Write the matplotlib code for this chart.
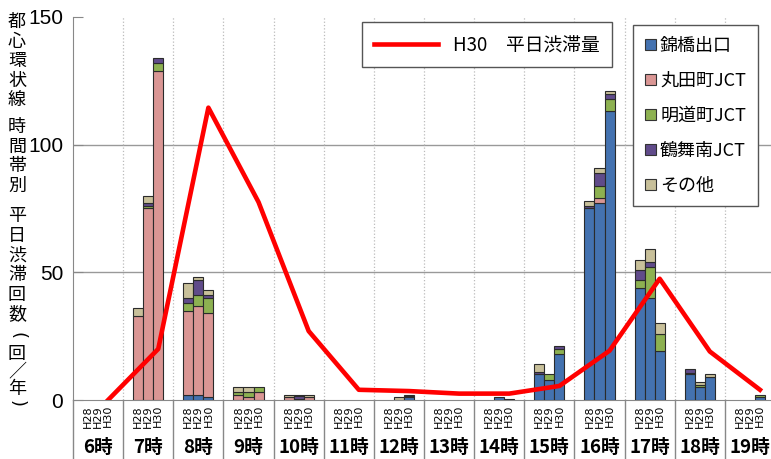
import matplotlib.pyplot as plt
import matplotlib.transforms as mtransforms
from matplotlib.lines import Line2D
from matplotlib.patches import Patch
import numpy as np

plt.rcParams['font.family'] = ['Noto Sans CJK JP', 'DejaVu Sans']

# 時間帯と年度
hours = ['6時', '7時', '8時', '9時', '10時', '11時', '12時',
         '13時', '14時', '15時', '16時', '17時', '18時', '19時']
years = ['H28', 'H29', 'H30']

# 渋滞回数（行: 時間帯, 列: H28, H29, H30）
nishikibashi = [[0, 0, 0], [0, 0, 0], [2, 2, 1], [0, 0, 0], [0, 0, 0],
                [0, 0, 0], [0, 0, 1], [0, 0, 0], [0, 1, 0.5], [10, 8, 18],
                [75, 77, 113], [44, 40, 19], [10, 5, 9], [0, 0, 1]]
marutamachi = [[0, 0, 0], [33, 75, 129], [33, 35, 33], [2, 1, 3], [1, 0.5, 1],
               [0, 0, 0], [0, 0, 0], [0, 0, 0], [0, 0, 0], [0, 0, 0],
               [0, 2, 0], [0, 0, 0], [0, 0, 0], [0, 0, 0]]
meidocho = [[0, 0, 0], [0, 1, 3], [3, 4, 6], [1, 2, 2], [0, 0, 0],
            [0, 0, 0], [0, 0, 0.5], [0, 0, 0], [0, 0, 0], [0, 2, 2],
            [0, 5, 5], [3, 12, 7], [0.5, 1, 0], [0, 0, 1]]
tsurumaiminami = [[0, 0, 0], [0, 1, 2], [2, 6, 1], [0, 0, 0], [0, 1, 0],
                  [0, 0, 0], [0, 0, 0], [0, 0, 0], [0, 0, 0], [1, 0, 1],
                  [1, 5, 2], [4, 2, 0], [1.5, 0, 0], [0, 0, 0]]
sonota = [[0, 0, 0], [3, 3, 0], [6, 1, 2], [2, 2, 0], [1, 0.5, 1],
          [0, 0, 0], [0, 1, 0.5], [0, 0, 0], [0, 0, 0], [3, 0, 0],
          [2, 2, 1], [4, 5, 4], [0, 1, 1], [0, 0, 0]]

# H30 平日渋滞量
h30_jutai = [0, 20, 114.5, 77.5, 27, 4, 3.5, 2.5, 2.5, 5.5, 19.3, 47.5, 19, 4]

series = [
    ('錦橋出口', nishikibashi, '#4472B0'),
    ('丸田町JCT', marutamachi, '#DA9694'),
    ('明道町JCT', meidocho, '#8DB151'),
    ('鶴舞南JCT', tsurumaiminami, '#604B8A'),
    ('その他', sonota, '#C8C09A'),
]

W, H = 771, 459
fig = plt.figure(figsize=(W / 100, H / 100), dpi=100)
ax = fig.add_axes([73 / W, 59 / H, 702 / W, 383 / H])

x = np.arange(len(hours)) * 5
for j in range(len(years)):
    pos = x + (j - 1)
    bottom = np.zeros(len(hours))
    for name, vals, col in series:
        v = np.array(vals, dtype=float)[:, j]
        m = v > 0
        ax.bar(pos[m], v[m], width=1, bottom=bottom[m], color=col,
               edgecolor='#2b2b2b', linewidth=0.8, zorder=3)
        bottom += v

ax.plot(x + 1, h30_jutai, color='#FF0000', lw=3.3, zorder=4)

ax.set_xlim(-2.5, 67.5)
ax.set_ylim(0, 150)
ax.set_xticks([])
ax.set_yticks([0, 50, 100, 150])
ax.tick_params(axis='y', direction='in', length=7, color='#888888', pad=7,
               labelsize=15)
for t in ax.get_yticklabels():
    t.set_fontfamily('Liberation Sans')
for s in ['top', 'right']:
    ax.spines[s].set_visible(False)
for s in ['left', 'bottom']:
    ax.spines[s].set_color('#888888')

for yv in [50, 100]:
    ax.axhline(yv, color='#999999', lw=1, zorder=1)
bounds = x[:-1] + 2.5
for b in bounds:
    ax.axvline(b, color='#bbbbbb', ls=':', lw=0.9, zorder=1)

# 下の表形式ラベル
trans = mtransforms.blended_transform_factory(ax.transData, ax.transAxes)
for b in np.concatenate([[-2.5], bounds]):
    ax.plot([b, b], [0, -59 / 383], transform=trans, clip_on=False,
            color='#888888', lw=1)
for i, xc in enumerate(x):
    for j, yr in enumerate(years):
        ax.text(xc + j - 1, -5 / 383, yr, rotation=90, ha='center', va='top',
                fontsize=8, family='DejaVu Sans', transform=trans)
    ax.text(xc, -47 / 383, hours[i], ha='center', va='center', fontsize=13.5,
            fontweight='bold', transform=trans)

# 縦書きの軸ラベル（語ごとに1つのテキスト）
ylabel_parts = [('都心環状線', 13), ('時間帯別', 118), ('平日渋滞回数', 207),
                ('回／年', 345)]
for word, top in ylabel_parts:
    ls = 0.95 if word == '回／年' else 1.12
    fig.text(17 / W, 1 - top / H, '\n'.join(word), ha='center', va='top',
             fontsize=13, linespacing=ls, multialignment='center')
# 縦書きの括弧は半角括弧を回転して描く
fig.text(17 / W, 1 - 336 / H, '(', rotation=-90, ha='center', va='center',
         fontsize=13, family='DejaVu Sans')
fig.text(17 / W, 1 - 403 / H, ')', rotation=-90, ha='center', va='center',
         fontsize=13, family='DejaVu Sans')

leg1 = ax.legend(handles=[Line2D([0], [0], color='#FF0000', lw=3.3)],
                 labels=['H30　平日渋滞量'], loc='upper left',
                 bbox_to_anchor=(362 / W, 1 - 22 / H),
                 bbox_transform=fig.transFigure, borderaxespad=0,
                 fancybox=False, edgecolor='#555555', framealpha=1,
                 fontsize=13.5, handlelength=3.4, handletextpad=0.8,
                 borderpad=0.65)
ax.add_artist(leg1)

patches = [Patch(facecolor=col, edgecolor='#333333', lw=0.8)
           for name, vals, col in series]
leg2 = ax.legend(handles=patches, labels=[s[0] for s in series],
                 loc='upper left', bbox_to_anchor=(633 / W, 1 - 25 / H),
                 bbox_transform=fig.transFigure, borderaxespad=0,
                 fancybox=False, edgecolor='#555555', framealpha=1,
                 fontsize=13, labelspacing=0.94, handlelength=0.6,
                 handleheight=0.6, handletextpad=0.25, borderpad=0.65)
for lg in (leg1, leg2):
    lg.get_frame().set_linewidth(1)

fig.savefig('out.png', dpi=100)
